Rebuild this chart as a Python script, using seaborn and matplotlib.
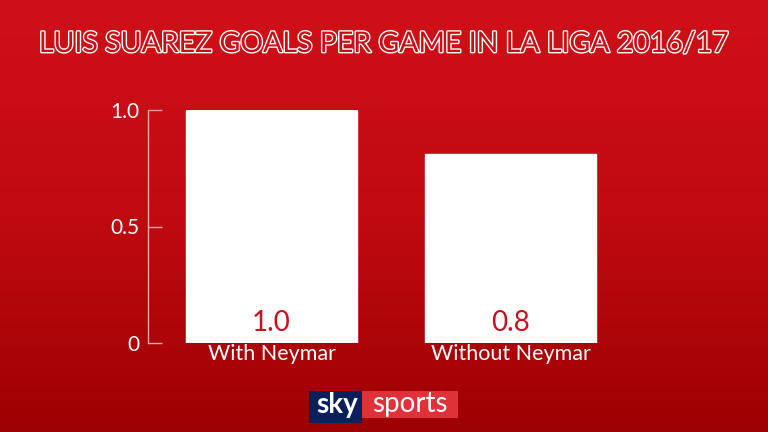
import numpy as np
import matplotlib
matplotlib.use("Agg")
import matplotlib.pyplot as plt
import matplotlib.patheffects as pe
from matplotlib.colors import LinearSegmentedColormap
from matplotlib.patches import Rectangle
import seaborn as sns
import pandas as pd

categories = ["With Neymar", "Without Neymar"]
values = [1.0, 0.81]
value_labels = ["1.0", "0.8"]
yticks = [0, 0.5, 1.0]
ytick_labels = ["0", "0.5", "1.0"]
title = "LUIS SUAREZ GOALS PER GAME IN LA LIGA 2016/17"

sns.set_style("white")
plt.rcParams['font.family'] = ['Lato', 'DejaVu Sans']

fig = plt.figure(figsize=(7.68, 4.32), dpi=100)

# background gradient
bg = fig.add_axes([0, 0, 1, 1], zorder=0)
cmap = LinearSegmentedColormap.from_list("bg", ["#9e0003", "#c00a10", "#d01018"])
grad = np.linspace(0, 1, 256).reshape(-1, 1)
bg.imshow(grad, aspect="auto", cmap=cmap, origin="lower", extent=[0, 1, 0, 1])
bg.set_axis_off()

ax = fig.add_axes([148/768, 1-343/432, (634.5-148)/768, (343-110)/432], zorder=1)
ax.patch.set_alpha(0)
df = pd.DataFrame({"cat": categories, "val": values})
sns.barplot(data=df, x="cat", y="val", color="white", width=0.714, saturation=1, ax=ax)
ax.set_xlim(-0.516, 1.516)
ax.set_ylim(0, 1.0)
ax.set_xlabel("")
ax.set_ylabel("")
for s in ["top", "right", "bottom"]:
    ax.spines[s].set_visible(False)
ax.spines["left"].set_color("#f0a8a8")
ax.spines["left"].set_linewidth(1)
ax.set_yticks(yticks)
ax.set_yticklabels(ytick_labels)
ax.tick_params(axis="y", left=True, direction="in", length=10, width=1, color="#f0a8a8",
               labelcolor="white", labelsize=15, pad=6)
ax.tick_params(axis="x", bottom=False, length=0, labelcolor="white", labelsize=15.5, pad=1)

for i, (v, lab) in enumerate(zip(values, value_labels)):
    ax.text(i, 0.085, lab, ha="center", va="center", color="#c8101e", fontsize=20)

# title with outline effect
t = fig.text(0.5, 1-44/432, title, ha="center", va="center", fontsize=20.5,
             fontweight="normal", color="#c80d14")
t.set_path_effects([pe.Stroke(linewidth=2.0, foreground="white"), pe.Normal()])

# sky sports logo
fig.patches.append(Rectangle((309/768, 1-423/432), 53/768, 32/432, transform=fig.transFigure,
                             facecolor="#0b1f5c", edgecolor="none", zorder=3))
fig.patches.append(Rectangle((362/768, 1-418/432), 96/768, 27/432, transform=fig.transFigure,
                             facecolor="#e0303a", edgecolor="none", zorder=3))
fig.text(337/768, 1-405/432, "sky", ha="center", va="center", fontsize=20,
         fontweight="bold", color="white", zorder=4)
fig.text(410/768, 1-404/432, "sports", ha="center", va="center", fontsize=20,
         color="white", zorder=4)

fig.savefig("out.png", dpi=100)
